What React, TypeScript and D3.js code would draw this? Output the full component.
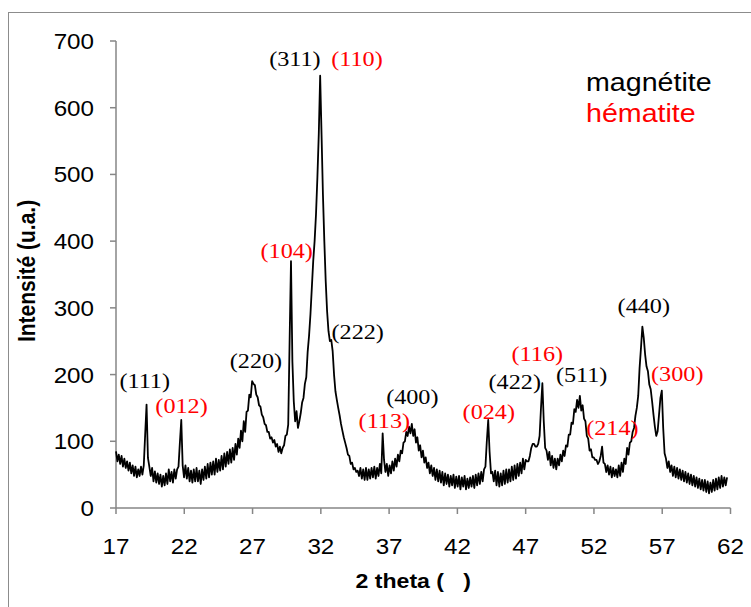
import React from 'react';
import * as d3 from 'd3';

// XRD scan (one reading per ~0.1 deg)
const scanStart = 17;
const scanEnd = 61.75;
const intensity = [
  85, 70, 80, 66, 78, 62, 74, 60, 70, 56,
  68, 52, 64, 48, 62, 46, 58, 48, 62, 50,
  64, 110, 155, 75, 62, 48, 60, 40, 55, 38,
  52, 36, 50, 32, 48, 34, 52, 36, 58, 40,
  54, 38, 58, 44, 58, 62, 98, 132, 64, 46,
  64, 44, 60, 40, 56, 38, 58, 40, 60, 40,
  56, 36, 58, 42, 62, 44, 66, 46, 68, 50,
  70, 50, 74, 54, 72, 56, 78, 58, 82, 62,
  84, 66, 88, 68, 90, 72, 96, 80, 104, 90,
  116, 100, 130, 114, 144, 146, 170, 166, 190, 186,
  184, 170, 166, 154, 152, 140, 136, 126, 124, 114,
  114, 104, 106, 98, 102, 92, 96, 84, 92, 82,
  90, 94, 108, 110, 125, 250, 370, 220, 160, 130,
  145, 120, 130, 142, 158, 165, 186, 196, 234, 258,
  290, 330, 370, 400, 440, 495, 560, 648, 560, 470,
  400, 340, 295, 265, 250, 252, 235, 200, 175, 162,
  150, 139, 126, 116, 106, 98, 90, 80, 78, 66,
  68, 58, 60, 54, 56, 48, 60, 44, 58, 42,
  60, 42, 58, 44, 60, 46, 62, 44, 60, 48,
  66, 52, 112, 72, 54, 66, 48, 64, 52, 70,
  56, 74, 62, 80, 70, 86, 82, 98, 100, 114,
  108, 122, 112, 126, 108, 118, 98, 106, 86, 94,
  76, 86, 68, 76, 60, 68, 52, 64, 48, 60,
  42, 58, 40, 56, 38, 54, 34, 52, 36, 50,
  32, 48, 34, 50, 30, 47, 32, 48, 28, 46,
  32, 48, 28, 44, 30, 46, 32, 48, 30, 50,
  34, 52, 36, 54, 40, 58, 62, 100, 132, 84,
  52, 54, 40, 56, 34, 54, 32, 52, 34, 56,
  36, 58, 38, 58, 40, 62, 42, 64, 44, 66,
  48, 68, 52, 74, 58, 72, 70, 70, 78, 90,
  96, 96, 92, 92, 96, 108, 150, 187, 130, 90,
  86, 72, 84, 64, 78, 60, 74, 58, 74, 64,
  80, 70, 86, 78, 94, 92, 110, 110, 128, 126,
  148, 144, 162, 150, 168, 146, 154, 134, 130, 108,
  104, 86, 88, 76, 76, 72, 72, 66, 70, 78,
  92, 68, 66, 54, 64, 50, 62, 46, 60, 48,
  58, 46, 64, 48, 68, 54, 74, 66, 90, 80,
  98, 100, 114, 120, 138, 150, 168, 210, 240, 272,
  255, 230, 212, 205, 185, 178, 160, 140, 122, 108,
  115, 140, 165, 176, 120, 82, 74, 60, 70, 54,
  64, 48, 62, 46, 60, 44, 58, 42, 56, 40,
  54, 38, 52, 36, 50, 34, 48, 32, 46, 30,
  44, 28, 42, 26, 42, 24, 40, 22, 38, 24,
  42, 26, 44, 28, 46, 30, 48, 32, 46, 34,
  46,
];

const xTicks = [17, 22, 27, 32, 37, 42, 47, 52, 57, 62];
const yTicks = [0, 100, 200, 300, 400, 500, 600, 700];

// peak labels: m = magnétite, h = hématite
const hklLabels = ['(111)', '(012)', '(220)', '(104)', '(311)', '(110)', '(222)', '(113)',
  '(400)', '(024)', '(422)', '(116)', '(511)', '(214)', '(440)', '(300)'];
const hklPhase = ['m', 'h', 'm', 'h', 'm', 'h', 'm', 'h', 'm', 'h', 'm', 'h', 'm', 'h', 'm', 'h'];
const hklTheta = [19.1, 21.8, 27.25, 29.5, 30.1, 34.65, 34.7, 36.65, 38.7, 44.3, 46.2, 47.85, 51.1, 53.35, 55.65, 58.1];
const hklIntensity = [180, 142, 210, 374, 662, 662, 253, 120, 156, 133, 178, 220, 189, 109, 292, 190];

const legendNames = ['magnétite', 'hématite'];
const legendColors = ['#000000', '#ff0000'];

const W = 751;
const H = 607;
const SX = 1.1; // source picture is a little stretched sideways

const sans = '"Liberation Sans", Arial, sans-serif';
const serif = '"Liberation Serif", "Times New Roman", serif';
const axisGray = '#868686';

const App: React.FC = () => {
  const x = d3.scaleLinear().domain([17, 62]).range([116, 730.5]);
  const y = d3.scaleLinear().domain([0, 700]).range([508, 41]);

  const step = (scanEnd - scanStart) / (intensity.length - 1);
  const pts: [number, number][] = intensity.map((v, i) => [scanStart + i * step, v]);
  const line = d3.line<[number, number]>()
    .x(d => x(d[0]))
    .y(d => y(d[1]));

  return (
    <div style={{ position: 'absolute', left: 0, top: 0 }}>
      <svg width={W} height={H} style={{ display: 'block', background: '#fff' }}>
        {/* outer frame */}
        <rect x={8.5} y={12.5} width={W + 20} height={H + 20} fill="none" stroke="#8c8c8c" strokeWidth={1} />

        {/* axes */}
        <line x1={x(17)} x2={x(17)} y1={y(700)} y2={y(0)} stroke={axisGray} strokeWidth={1.5} />
        <line x1={x(17)} x2={x(62)} y1={y(0)} y2={y(0)} stroke={axisGray} strokeWidth={1.5} />
        {yTicks.map(t => (
          <g key={'y' + t}>
            <line x1={x(17) - 6} x2={x(17)} y1={y(t)} y2={y(t)} stroke={axisGray} strokeWidth={1.5} />
            <text
              transform={`translate(94,${y(t) + 8}) scale(${SX},1)`}
              textAnchor="end"
              fontFamily={sans}
              fontSize={22}
              fill="#000"
            >
              {t}
            </text>
          </g>
        ))}
        {xTicks.map(t => (
          <g key={'x' + t}>
            <line x1={x(t)} x2={x(t)} y1={y(0)} y2={y(0) + 6} stroke={axisGray} strokeWidth={1.5} />
            <text
              transform={`translate(${x(t)},554) scale(${SX},1)`}
              textAnchor="middle"
              fontFamily={sans}
              fontSize={22}
              fill="#000"
            >
              {t}
            </text>
          </g>
        ))}

        {/* axis titles */}
        <text
          transform={`translate(${(x(17) + x(62)) / 2 - 10},588) scale(${SX},1)`}
          textAnchor="middle"
          fontFamily={sans}
          fontSize={21}
          fontWeight="bold"
          fill="#000"
        >
          {'2 theta (\u00a0\u00a0\u00a0)'}
        </text>
        <text
          transform={`translate(35,271) rotate(-90) scale(1,${SX})`}
          textAnchor="middle"
          fontFamily={sans}
          fontSize={21}
          fontWeight="bold"
          fill="#000"
        >
          Intensité (u.a.)
        </text>

        {/* diffractogram */}
        <path d={line(pts) || ''} fill="none" stroke="#000" strokeWidth={1.8} strokeLinejoin="round" />

        {/* peak labels */}
        {hklLabels.map((lab, i) => (
          <text
            key={lab + i}
            transform={`translate(${x(hklTheta[i])},${y(hklIntensity[i])}) scale(${SX},1)`}
            textAnchor="middle"
            fontFamily={serif}
            fontSize={22}
            fill={hklPhase[i] === 'h' ? legendColors[1] : legendColors[0]}
          >
            {lab}
          </text>
        ))}

        {/* legend */}
        {legendNames.map((n, i) => (
          <text
            key={n}
            transform={`translate(586,${91 + i * 31}) scale(${SX},1)`}
            fontFamily={sans}
            fontSize={26}
            fill={legendColors[i]}
          >
            {n}
          </text>
        ))}
      </svg>
    </div>
  );
};

export default App;
